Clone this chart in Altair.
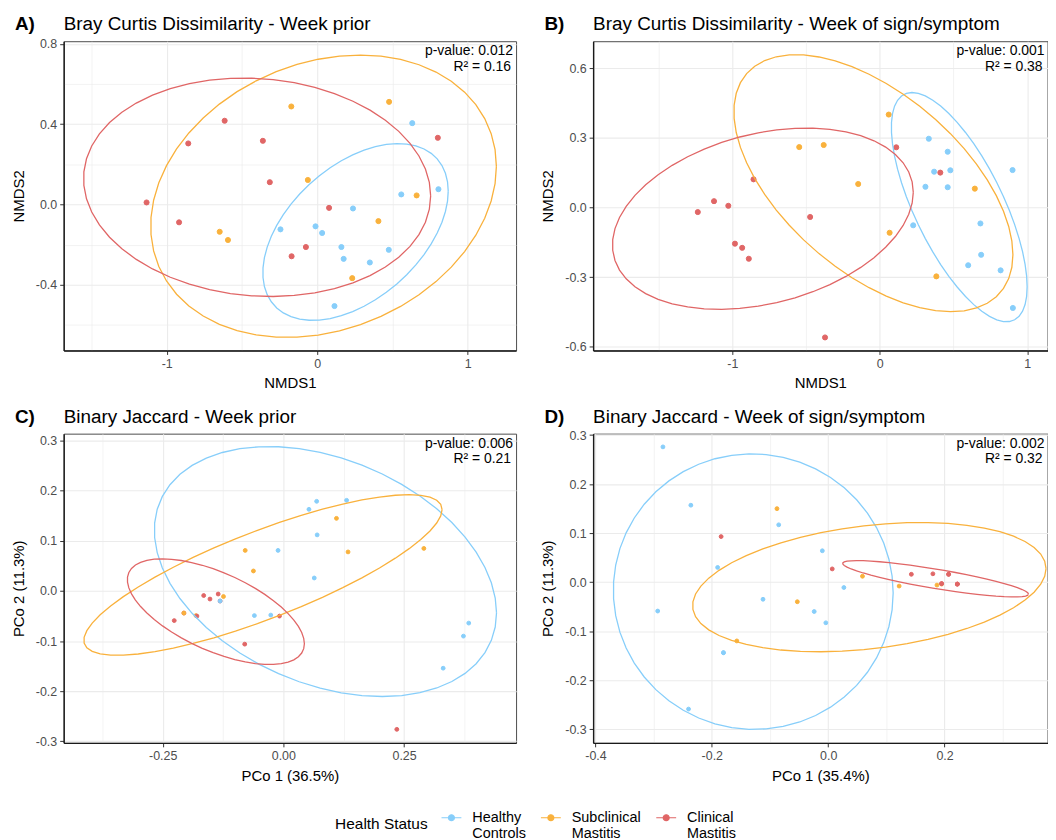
import json
import numpy as np
import pandas as pd
import altair as alt

FONT = "Liberation Sans"
GROUPS = ["Healthy Controls", "Subclinical Mastitis", "Clinical Mastitis"]
COLORS = ["#87CEFA", "#F9B13C", "#E06666"]
LEVEL = 0.9

# ---------------- Panel A: Bray Curtis - Week prior (NMDS) ----------------
A_HC_X = [0.632, 0.806, 0.559, 0.238, -0.244, -0.011, 0.033, 0.161, 0.176, 0.350, 0.476, 0.115]
A_HC_Y = [0.405, 0.076, 0.050, -0.020, -0.124, -0.109, -0.142, -0.212, -0.271, -0.289, -0.226, -0.506]
A_SM_X = [-0.172, 0.478, -0.062, 0.661, 0.407, -0.648, -0.593, 0.233]
A_SM_Y = [0.488, 0.511, 0.122, 0.045, -0.083, -0.136, -0.177, -0.367]
A_CM_X = [-1.134, -0.918, -0.857, -0.615, -0.361, -0.315, -0.170, -0.075, 0.079, 0.802]
A_CM_Y = [0.010, -0.089, 0.304, 0.417, 0.317, 0.111, -0.258, -0.212, -0.017, 0.332]

# ---------------- Panel B: Bray Curtis - Week of sign/symptom ----------------
B_HC_X = [0.333, 0.461, 0.369, 0.479, 0.310, 0.461, 0.901, 0.227, 0.683, 0.688, 0.600, 0.820, 0.903]
B_HC_Y = [0.296, 0.240, 0.154, 0.160, 0.089, 0.087, 0.161, -0.077, -0.069, -0.204, -0.249, -0.271, -0.433]
B_SM_X = [-0.546, -0.380, -0.146, 0.061, 0.067, 0.645, 0.384]
B_SM_Y = [0.260, 0.269, 0.101, 0.400, -0.109, 0.081, -0.297]
B_CM_X = [-1.234, -1.124, -1.027, -0.856, -0.982, -0.933, -0.888, -0.472, -0.371, 0.112, 0.411]
B_CM_Y = [-0.020, 0.027, 0.007, 0.121, -0.156, -0.174, -0.221, -0.041, -0.560, 0.259, 0.150]

# ---------------- Panel C: Binary Jaccard - Week prior (PCoA) ----------------
C_HC_X = [-0.131, -0.060, -0.026, -0.011, 0.064, 0.070, 0.053, 0.069, 0.131, 0.331, 0.373, 0.384]
C_HC_Y = [-0.020, -0.049, -0.048, 0.081, 0.026, 0.112, 0.163, 0.179, 0.181, -0.154, -0.090, -0.064]
C_SM_X = [-0.206, -0.181, -0.124, -0.079, -0.062, 0.110, 0.134, 0.291]
C_SM_Y = [-0.044, -0.049, -0.011, 0.081, 0.040, 0.145, 0.078, 0.085]
C_CM_X = [-0.226, -0.179, -0.165, -0.152, -0.135, -0.080, -0.008, 0.235]
C_CM_Y = [-0.059, -0.050, -0.009, -0.016, -0.006, -0.106, -0.050, -0.276]
# samples hidden underneath other points
C_CM_HID_X = [-0.206, -0.131]
C_CM_HID_Y = [-0.044, -0.020]

# ---------------- Panel D: Binary Jaccard - Week of sign/symptom ----------------
D_HC_X = [-0.284, -0.236, -0.085, -0.190, -0.010, -0.293, -0.112, -0.024, -0.004, 0.027, -0.180, -0.240]
D_HC_Y = [0.276, 0.157, 0.117, 0.030, 0.064, -0.059, -0.035, -0.060, -0.083, -0.011, -0.144, -0.259]
D_SM_X = [-0.088, 0.059, 0.122, 0.187, -0.053, -0.157]
D_SM_Y = [0.150, 0.012, -0.008, -0.006, -0.040, -0.120]
D_CM_X = [-0.184, 0.007, 0.143, 0.180, 0.207, 0.195, 0.222]
D_CM_Y = [0.093, 0.027, 0.016, 0.017, 0.016, -0.003, -0.004]
# samples hidden underneath other points
D_HC_HID_X = [-0.180]
D_HC_HID_Y = [-0.144]
D_SM_HID_X = [0.195]
D_SM_HID_Y = [-0.004]
D_CM_HID_X = [0.222, 0.222, 0.207, 0.195]
D_CM_HID_Y = [-0.004, -0.004, 0.016, -0.003]

STATS = {
    "A": ("p-value: 0.012", "R\u00b2 = 0.16"),
    "B": ("p-value: 0.001", "R\u00b2 = 0.38"),
    "C": ("p-value: 0.006", "R\u00b2 = 0.21"),
    "D": ("p-value: 0.002", "R\u00b2 = 0.32"),
}


def cov_trob(X, nu=5, maxit=25, tol=0.01):
    """Port of MASS::cov.trob (multivariate t robust covariance)."""
    X = np.asarray(X, float)
    n, p = X.shape
    wt = np.ones(n)
    loc = X.mean(axis=0)
    w = np.sqrt(wt)
    Xc = X - loc
    for _ in range(maxit):
        w0 = w
        Xc = X - loc
        A = np.sqrt(w / w.sum())[:, None] * Xc
        _, d, Vt = np.linalg.svd(A, full_matrices=False)
        wX = Xc @ Vt.T @ np.diag(1.0 / d)
        Q = (wX ** 2).sum(axis=1)
        w = wt * (nu + p) / (nu + Q)
        loc = (w[:, None] * X).sum(axis=0) / w.sum()
        if np.all(np.abs(w - w0) < tol):
            break
    sw = np.sqrt(w)[:, None] * Xc
    return sw.T @ sw / wt.sum(), loc


def stat_ellipse(xs, ys, level=LEVEL, segments=51):
    """Same construction as ggplot2::stat_ellipse(type = 't')."""
    cov, center = cov_trob(np.column_stack([xs, ys]))
    R = np.linalg.cholesky(cov).T
    dfd = len(xs) - 1
    fq = dfd / 2.0 * ((1 - level) ** (-2.0 / dfd) - 1)
    radius = np.sqrt(2 * fq)
    ang = np.arange(segments + 1) * 2 * np.pi / segments
    circ = np.column_stack([np.cos(ang), np.sin(ang)])
    e = center + radius * (circ @ R)
    return e[:, 0], e[:, 1]


def build(groups, hidden=None):
    hidden = hidden or {}
    pts, ells = [], []
    for g, (xs, ys) in zip(GROUPS, groups):
        hx, hy = hidden.get(g, ([], []))
        for x, y in zip(hx, hy):
            pts.append({"x": x, "y": y, "group": g, "z": 0})
        for x, y in zip(xs, ys):
            pts.append({"x": x, "y": y, "group": g, "z": 1})
        ex, ey = stat_ellipse(list(xs) + list(hx), list(ys) + list(hy))
        for i, (x, y) in enumerate(zip(ex, ey)):
            ells.append({"x": float(x), "y": float(y), "group": g, "idx": i})
    return pd.DataFrame(pts), pd.DataFrame(ells)


def axis(maj, mn, fmt, title, **kw):
    vals = sorted(maj + mn)
    test = "indexof(%s, datum.value) >= 0" % json.dumps(mn)
    return alt.Axis(
        values=vals,
        title=title,
        labelExpr="%s ? '' : replace(format(datum.value, '%s'), '\u2212', '-')" % (test, fmt),
        gridWidth={"condition": {"test": test, "value": 0.6}, "value": 1.1},
        tickColor={"condition": {"test": test, "value": "transparent"}, "value": "#333333"},
        labelOverlap=False,
        labelFlush=False,
        **kw,
    )


LEGEND = alt.Legend(
    title="Health Status",
    orient="none",
    legendX=273,
    legendY=770,
    direction="horizontal",
    titleOrient="left",
    titleFontSize=15.5,
    titleFontWeight="normal",
    titleColor="black",
    titleFont=FONT,
    titlePadding=12,
    titleAnchor="middle",
    labelFontSize=14.5,
    labelFont=FONT,
    labelColor="black",
    labelExpr="split(datum.label, ' ')",
    labelOffset=10,
    columnPadding=12,
    gridAlign="none",
    symbolType="M-1,0L1,0M-0.3,0A0.3,0.3,0,1,0,0.3,0A0.3,0.3,0,1,0,-0.3,0Z",
    symbolSize=400,
    symbolStrokeWidth=1.2,
)


def txt(text, x, y, size, weight="normal", align="left"):
    return alt.Chart(alt.Data(values=[{"a": 1}])).mark_text(
        text=text, align=align, baseline="alphabetic", fontSize=size,
        fontWeight=weight, font=FONT, color="black",
    ).encode(x=alt.value(x), y=alt.value(y))


def panel(letter, title, groups, xdom, ydom, xmaj, xmin, xfmt, ymaj, ymin, yfmt,
          xtitle, ytitle, width, height, size, hidden=None):
    pts, ell = build(groups, hidden)
    xs = alt.Scale(domain=xdom, nice=False, zero=False)
    ys = alt.Scale(domain=ydom, nice=False, zero=False)
    fill_sc = alt.Scale(domain=GROUPS, range=COLORS)
    X = alt.X("x:Q", scale=xs, axis=axis(xmaj, xmin, xfmt, xtitle, titlePadding=6))
    Y = alt.Y("y:Q", scale=ys, axis=axis(ymaj, ymin, yfmt, ytitle, titlePadding=9))
    points = alt.Chart(pts).mark_circle(size=size, opacity=1, strokeWidth=1).encode(
        x=X, y=Y,
        fill=alt.Fill("group:N", scale=fill_sc, legend=LEGEND, sort=GROUPS),
        stroke=alt.Stroke("group:N", scale=fill_sc, legend=LEGEND, sort=GROUPS),
        order=alt.Order("z:Q"),
    )
    lines = alt.Chart(ell).mark_line(strokeWidth=1.3, clip=True).encode(
        x="x:Q", y="y:Q",
        stroke=alt.Stroke("group:N", scale=fill_sc, legend=LEGEND, sort=GROUPS),
        detail="group:N",
        order="idx:Q",
    )
    p1, p2 = STATS[letter]
    return alt.layer(
        points, lines,
        txt(letter + ")", -49, -11, 19, weight="bold"),
        txt(title, 0, -11, 19),
        txt(p1, width - 3, 14, 14, align="right"),
        txt(p2, width - 5, 30, 14, align="right"),
    ).properties(width=width, height=height)


W1, W2, H = 455, 457, 311

pA = panel("A", "Bray Curtis Dissimilarity - Week prior",
           [(A_HC_X, A_HC_Y), (A_SM_X, A_SM_Y), (A_CM_X, A_CM_Y)],
           [-1.685, 1.322], [-0.727, 0.813],
           [-1, 0, 1], [-1.5, -0.5, 0.5], "d",
           [-0.4, 0, 0.4, 0.8], [-0.6, -0.2, 0.2, 0.6], ".1f",
           "NMDS1", "NMDS2", W1, H, 26)
pB = panel("B", "Bray Curtis Dissimilarity - Week of sign/symptom",
           [(B_HC_X, B_HC_Y), (B_SM_X, B_SM_Y), (B_CM_X, B_CM_Y)],
           [-1.944, 1.138], [-0.616, 0.716],
           [-1, 0, 1], [-1.5, -0.5, 0.5], "d",
           [-0.6, -0.3, 0, 0.3, 0.6], [-0.45, -0.15, 0.15, 0.45], ".1f",
           "NMDS1", "NMDS2", W2, H, 26)
pC = panel("C", "Binary Jaccard - Week prior",
           [(C_HC_X, C_HC_Y), (C_SM_X, C_SM_Y), (C_CM_X, C_CM_Y)],
           [-0.455, 0.482], [-0.303, 0.314],
           [-0.25, 0, 0.25], [-0.375, -0.125, 0.125, 0.375], ".2f",
           [-0.3, -0.2, -0.1, 0, 0.1, 0.2, 0.3], [-0.25, -0.15, -0.05, 0.05, 0.15, 0.25], ".1f",
           "PCo 1 (36.5%)", "PCo 2 (11.3%)", W1, H, 15,
           hidden={GROUPS[2]: (C_CM_HID_X, C_CM_HID_Y)})
pD = panel("D", "Binary Jaccard - Week of sign/symptom",
           [(D_HC_X, D_HC_Y), (D_SM_X, D_SM_Y), (D_CM_X, D_CM_Y)],
           [-0.404, 0.377], [-0.328, 0.303],
           [-0.4, -0.2, 0, 0.2], [-0.3, -0.1, 0.1, 0.3], ".1f",
           [-0.3, -0.2, -0.1, 0, 0.1, 0.2, 0.3], [-0.25, -0.15, -0.05, 0.05, 0.15, 0.25], ".1f",
           "PCo 1 (35.4%)", "PCo 2 (11.3%)", W2, H, 15,
           hidden={GROUPS[0]: (D_HC_HID_X, D_HC_HID_Y),
                   GROUPS[1]: (D_SM_HID_X, D_SM_HID_Y),
                   GROUPS[2]: (D_CM_HID_X, D_CM_HID_Y)})

chart = alt.concat(
    pA, pB, pC, pD, columns=2,
    spacing={"row": 83.7, "column": 77.5}, bounds="flush",
).properties(
    padding={"left": 2, "top": 4, "right": 0, "bottom": 0},
    background="white",
).configure_view(
    stroke="#4D4D4D", strokeWidth=1,
).configure_axis(
    labelFont=FONT, labelFontSize=12.5, labelColor="#4D4D4D", labelPadding=3,
    titleFont=FONT, titleFontSize=15, titleFontWeight="normal", titleColor="black",
    tickSize=4, tickWidth=1,
    domain=True, domainColor="#1A1A1A", domainWidth=1.4,
    grid=True, gridColor="#EBEBEB",
)

chart.save("out.html", embed_options={"renderer": "svg", "actions": False})
